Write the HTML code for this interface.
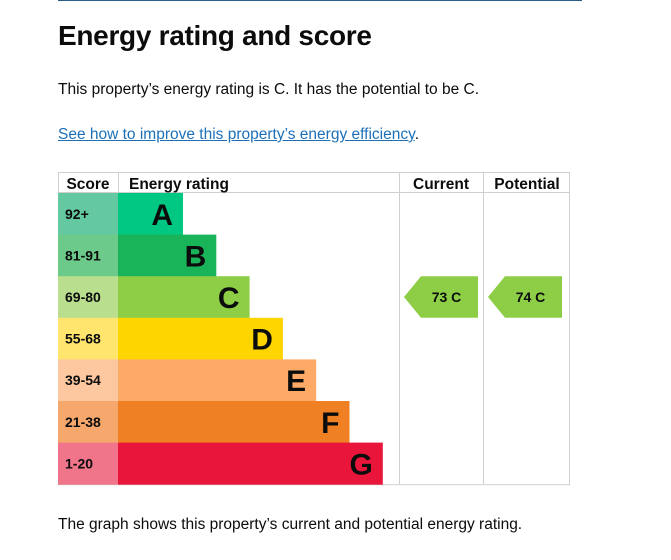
<!DOCTYPE html>
<html><head><meta charset="utf-8"><style>
body{margin:0;width:671px;height:560px;background:#fff;font-family:"Liberation Sans",Arial,sans-serif;color:#0b0c0c;position:relative;overflow:hidden}
.rule{position:absolute;left:58px;top:0;width:524px;height:1px;background:#2b5c85}
h1{position:absolute;left:58px;top:20px;margin:0;font-size:28px;font-weight:bold;letter-spacing:-0.3px}
p{position:absolute;left:58px;margin:0;font-size:15.5px}
a{color:#1d70b8;text-decoration:underline}
svg{position:absolute;left:0;top:0}
</style></head><body>
<div class="rule"></div>
<h1>Energy rating and score</h1>
<p style="top:81px">This property’s energy rating is C. It has the potential to be C.</p>
<p style="top:126px"><a href="#">See how to improve this property’s energy efficiency</a>.</p>
<p style="top:516px">The graph shows this property’s current and potential energy rating.</p>
<svg id="chart" width="671" height="560"></svg>
<script>
const bands=["A","B","C","D","E","F","G"];
const ranges=["92+","81-91","69-80","55-68","39-54","21-38","1-20"];
const bandMin=[92,81,69,55,39,21,1];
const currentScore=73;
const currentBand="C";
const potentialScore=74;
const potentialBand="C";

const barColors=["#00c781","#19b459","#8dce46","#ffd500","#fcaa65","#ef8023","#e9153b"];
const scoreColors=["#64c8a0","#6cca8b","#b9df8e","#ffe46e","#fdc7a0","#f5a76c","#f0758a"];
const NS="http://www.w3.org/2000/svg";
const svg=document.getElementById("chart");
const X0=58,X1=570,SC=118,CUR=399,POT=483,TOP=172,HEAD=193,ROW=41.6;
const rowY=i=>HEAD+i*ROW;
const barEnd=i=>SC+65+i*33.3;
function el(t,a){const e=document.createElementNS(NS,t);for(const k in a)e.setAttribute(k,a[k]);svg.appendChild(e);return e;}
function txt(x,y,s,size,anchor){const t=el("text",{x:x,y:y,"font-size":size,"font-weight":"bold","text-anchor":anchor||"start","font-family":"Liberation Sans, Arial, sans-serif",fill:"#0b0c0c"});t.textContent=s;return t;}
const box=el("rect",{x:X0+0.5,y:TOP+0.5,width:X1-X0-1,height:rowY(7)-TOP,fill:"none",stroke:"#cfcfcf"});


[SC,CUR,POT].forEach(x=>{const l=el("line",{x1:x+0.5,x2:x+0.5,y1:TOP,y2:x===SC?HEAD:rowY(7),stroke:"#cfcfcf"});

});
const hl=el("line",{x1:X0,x2:X1,y1:HEAD-0.5,y2:HEAD-0.5,stroke:"#cfcfcf"});


const heads=[["Score",88,"middle"],["Energy rating",129,"start"],["Current",441,"middle"],["Potential",527,"middle"]];
heads.forEach(h=>{const t=txt(h[1],189,h[0],15.5,h[2]);

});
bands.forEach((b,i)=>{
 const y=rowY(i);
 const s=el("rect",{x:X0,y:y,width:SC-X0,height:ROW+0.5,fill:scoreColors[i]});
 
 
 const st=txt(65,y+ROW/2+5,ranges[i],14);
 
 
 const r=el("rect",{x:SC,y:y,width:barEnd(i)-SC,height:ROW+0.5,fill:barColors[i]});
 
 
 const lt=txt(barEnd(i)-10,y+ROW/2+11,b,30,"end");
 
 
});
function arrow(score,band,colLeft,name){
 const i=bandMin.findIndex(m=>score>=m);
 const y=rowY(i),x0=colLeft+5,x1=colLeft+79,tip=17;
 const p=el("polygon",{points:`${x0},${y+ROW/2} ${x0+tip},${y} ${x1},${y} ${x1},${y+ROW} ${x0+tip},${y+ROW}`,fill:barColors[i]});
 
 
 const t=txt((x0+tip+x1)/2-3,y+ROW/2+5,score+"  "+band,14,"middle");
 t.setAttribute("xml:space","preserve");
 
 
}
arrow(currentScore,currentBand,CUR,"current-rating");
arrow(potentialScore,potentialBand,POT,"potential-rating");
</script>
</body></html>
